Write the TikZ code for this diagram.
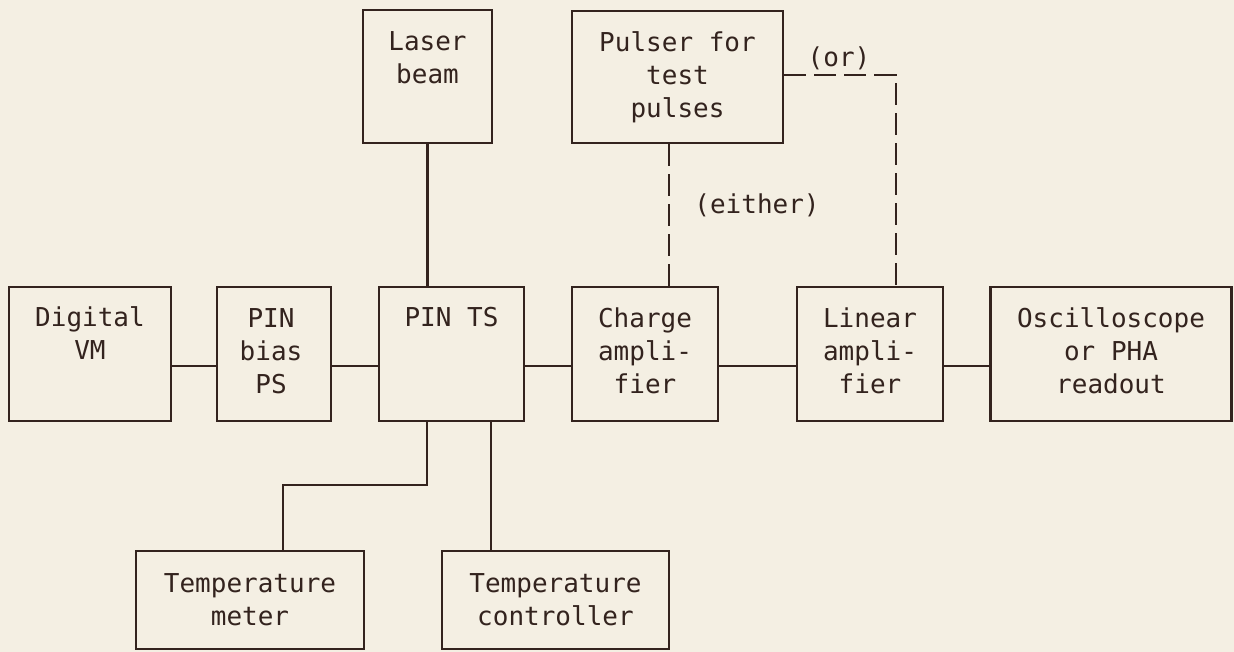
\documentclass[tikz,border=0pt]{standalone}
\usepackage{fontspec}
\newfontfamily\tw{DejaVu Sans Mono}
\definecolor{bg}{HTML}{F4EFE3}
\definecolor{ink}{HTML}{33231E}
\begin{document}
\begin{tikzpicture}[x=1pt,y=-1pt,
  box/.style={draw=ink, line width=2.2pt, rectangle, inner sep=0pt},
  txt/.style={text=ink, font=\tw\fontsize{26}{33}\selectfont, align=center, inner sep=0pt},
  wire/.style={draw=ink, line width=2.2pt},
  dwire/.style={wire, dash pattern=on 22pt off 8pt}]
\fill[bg] (0,0) rectangle (1234,652);
\useasboundingbox (0,0) rectangle (1234,652);

% boxes
\node[box, minimum width=129pt, minimum height=133pt] (laser)  at (427.5,76.5) {};
\node[box, minimum width=211pt, minimum height=132pt] (pulser) at (677.5,77) {};
\node[box, minimum width=162pt, minimum height=134pt] (dvm)    at (90,354) {};
\node[box, minimum width=114pt, minimum height=134pt] (bias)   at (274,354) {};
\node[box, minimum width=145pt, minimum height=134pt] (pints)  at (451.5,354) {};
\node[box, minimum width=146pt, minimum height=134pt] (charge) at (645,354) {};
\node[box, minimum width=146pt, minimum height=134pt] (linear) at (870,354) {};
\node[box, minimum width=241pt, minimum height=134pt] (osc)    at (1111,354) {};
\node[box, minimum width=228pt, minimum height=98pt]  (tmeter) at (250,600) {};
\node[box, minimum width=227pt, minimum height=98pt]  (tctrl)  at (555.5,600) {};

% texts
\node[txt] (laser-t)  at (427.5,58)  {Laser\\beam};
\node[txt] (pulser-t) at (677.5,77)  {Pulser for\\test\\pulses};
\node[txt] (dvm-t)    at (90,333.5)  {Digital\\VM};
\node[txt] (bias-t)   at (271,351)   {PIN\\bias\\PS};
\node[txt] (pints-t)  at (451.5,317.5) {PIN TS};
\node[txt] (charge-t) at (645,351)   {Charge\\ampli-\\fier};
\node[txt] (linear-t) at (870,351)   {Linear\\ampli-\\fier};
\node[txt] (osc-t)    at (1111,351)  {Oscilloscope\\or PHA\\readout};
\node[txt] (tmeter-t) at (250,600)   {Temperature\\meter};
\node[txt] (tctrl-t)  at (555.5,600) {Temperature\\controller};
\node[txt] (or-t)     at (839,58)    {(or)};
\node[txt] (either-t) at (757,205)   {(either)};

% helper coordinates
\coordinate (hl) at (0,366);
\coordinate (b1) at (427,485);
\coordinate (b2) at (283,485);
\coordinate (c1) at (491,0);
\coordinate (ec) at (669,0);
\coordinate (orl) at (0,75);
\coordinate (orc) at (896,75);

% solid connectors
\draw[wire] (dvm.east |- hl) -- (bias.west |- hl);
\draw[wire] (bias.east |- hl) -- (pints.west |- hl);
\draw[wire] (pints.east |- hl) -- (charge.west |- hl);
\draw[wire] (charge.east |- hl) -- (linear.west |- hl);
\draw[wire] (linear.east |- hl) -- (osc.west |- hl);
\draw[wire] (laser.south) -- (laser.south |- pints.north);
\draw[wire] (pints.south -| b1) -- (b1) -- (b2) -- (tmeter.north -| b2);
\draw[wire] (pints.south -| c1) -- (tctrl.north -| c1);

% dashed connectors
\draw[dwire] (pulser.south -| ec) -- (charge.north -| ec);
\draw[dwire] (pulser.east |- orl) -- (orc) -- (linear.north -| orc);
\end{tikzpicture}
\end{document}
